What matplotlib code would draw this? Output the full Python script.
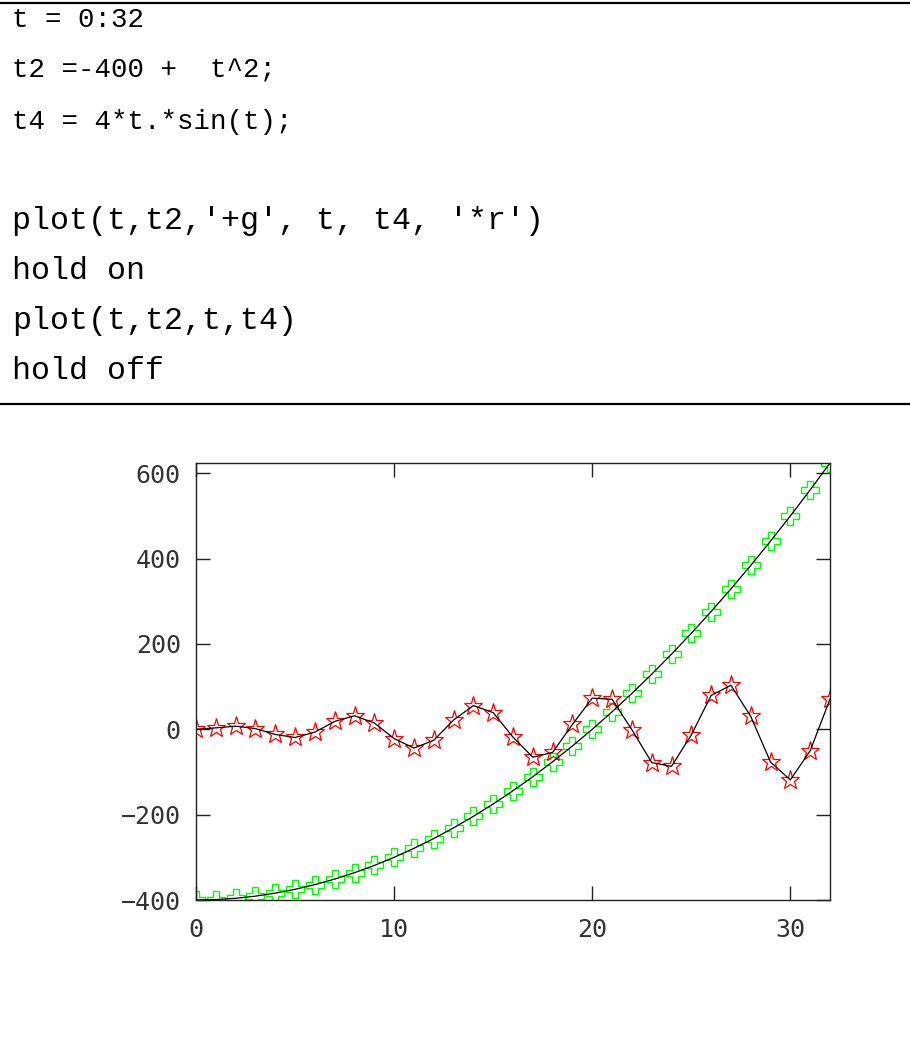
import matplotlib
matplotlib.use("Agg")
import matplotlib.pyplot as plt
from matplotlib.lines import Line2D

# data (t = 0:32)
t = [0, 1, 2, 3, 4, 5, 6, 7, 8, 9, 10, 11, 12, 13, 14, 15, 16,
     17, 18, 19, 20, 21, 22, 23, 24, 25, 26, 27, 28, 29, 30, 31, 32]
t2 = [-400, -399, -396, -391, -384, -375, -364, -351, -336, -319, -300,
      -279, -256, -231, -204, -175, -144, -111, -76, -39, 0, 41, 84,
      129, 176, 225, 276, 329, 384, 441, 500, 561, 624]
t4 = [0, 3.4, 7.3, 1.7, -12.1, -19.2, -6.7, 18.4, 31.7, 14.8, -21.8,
      -44.0, -25.8, 21.8, 55.5, 39.0, -18.4, -65.4, -54.1, 11.4, 73.0,
      70.3, -0.8, -77.9, -86.9, -13.2, 79.3, 103.3, 30.3, -77.0, -118.6,
      -50.1, 70.6]

xticks = [0, 10, 20, 30]
yticks = [-400, -200, 0, 200, 400, 600]

code_top = ["t = 0:32", "t2 =-400 +  t^2;", "t4 = 4*t.*sin(t);"]
code_bottom = ["plot(t,t2,'+g', t, t4, '*r')", "hold on",
               "plot(t,t2,t,t4)", "hold off"]

W, H = 910, 1051
fig = plt.figure(figsize=(W / 100, H / 100), dpi=100)

# code listing between two rules
for y in (3, 404):
    fig.add_artist(Line2D([0, 1], [1 - y / H, 1 - y / H], color='black',
                          linewidth=1.6, transform=fig.transFigure))
for i, line in enumerate(code_top):
    fig.text(12 / W, 1 - (20 + 51 * i) / H, line, family='Liberation Mono',
             fontsize=19.8, va='center', ha='left')
for i, line in enumerate(code_bottom):
    fig.text(12 / W, 1 - (221 + 50 * i) / H, line, family='Liberation Mono',
             fontsize=22.8, va='center', ha='left')

# plot area
ax = fig.add_axes([196 / W, 1 - 900 / H, (830 - 196) / W, (900 - 463) / H])
ax.plot(t, t2, 'P', color='#00ff00', mfc='none', mec='#00ff00', ms=13, mew=1.0)
ax.plot(t, t4, '*', color='#ff0000', mfc='none', mec='#ff0000', ms=14, mew=0.9)
ax.plot(t, t2, color='black', linewidth=0.9)
ax.plot(t, t4, color='black', linewidth=0.9)

ax.set_xlim(0, 32)
ax.set_ylim(-400, 624)
ax.set_xticks(xticks)
ax.set_yticks(yticks)
ax.tick_params(direction='in', length=10, width=1, top=True, right=True,
               labelsize=18, colors='#222222')
ax.tick_params(axis='x', pad=13)
ax.tick_params(axis='y', pad=11)
for lab in ax.get_xticklabels() + ax.get_yticklabels():
    lab.set_family('DejaVu Sans Mono')
    lab.set_fontweight('light')
    lab.set_color('#333333')
for s in ax.spines.values():
    s.set_linewidth(1.0)
    s.set_color('#222222')

fig.savefig('out.png', dpi=100)
